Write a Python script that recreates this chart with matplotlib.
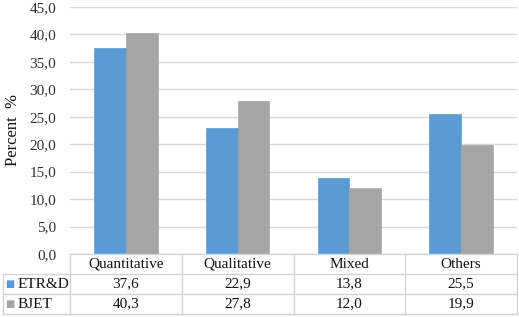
import matplotlib.pyplot as plt
import numpy as np

categories = ['Quantitative', 'Qualitative', 'Mixed', 'Others']
series_names = ['ETR&D', 'BJET']
etrd = [37.6, 22.9, 13.8, 25.5]
bjet = [40.3, 27.8, 12.0, 19.9]
yticks = [0, 5, 10, 15, 20, 25, 30, 35, 40, 45]

colors = ['#5B9BD5', '#A5A5A5']
grid_c = '#D9D9D9'
W, H = 519, 317

plt.rcParams['font.family'] = ['Liberation Serif', 'DejaVu Serif']

def fmt(v):
    return ('%.1f' % v).replace('.', ',')

fig = plt.figure(figsize=(W / 100, H / 100), dpi=100)
# plot area in pixels: x 70..517, y 7..254
ax = fig.add_axes([70 / W, (H - 254) / H, 447 / W, 247 / H])

x = np.arange(len(categories))
bw = 0.285
for i, vals in enumerate([etrd, bjet]):
    ax.bar(x + (i - 0.5) * bw, vals, bw, color=colors[i], zorder=3,
           edgecolor=colors[i], linewidth=0.5)

ax.set_xlim(-0.5, len(categories) - 0.5)
ax.set_ylim(0, 45)
ax.set_yticks(yticks)
ax.set_yticklabels([fmt(v) for v in yticks], fontsize=11, color='#303030')
ax.tick_params(axis='y', length=0, pad=10)
ax.set_xticks([])
ax.yaxis.grid(True, color=grid_c, linewidth=1, zorder=0)
for s in ax.spines.values():
    s.set_visible(False)
ax.set_ylabel('Percent  %', fontsize=12, labelpad=6, color='#111111')

# data table below the axes
rh = 20 / 247
left = (3 - 70) / 447
tc = '#D4D4D4'
kw = dict(color=tc, linewidth=1, clip_on=False, transform=ax.transAxes, zorder=4)
ax.plot([0, 1], [0, 0], **kw)
for r in range(1, 4):
    ax.plot([left, 1], [-r * rh, -r * rh], **kw)
ax.plot([left, left], [-rh, -3 * rh], **kw)
n = len(categories)
for c in range(n + 1):
    ax.plot([c / n, c / n], [0, -3 * rh], **kw)

for c, name in enumerate(categories):
    ax.text((c + 0.5) / n, -0.5 * rh, name, ha='center', va='center',
            fontsize=11, transform=ax.transAxes, color='#111111')
for r, (sname, vals) in enumerate(zip(series_names, [etrd, bjet])):
    yy = -(r + 1.5) * rh
    ax.text(left + 0.005, yy, '■', ha='left', va='center', fontsize=7,
            color=colors[r], transform=ax.transAxes, family=['DejaVu Sans'])
    ax.text(left + 0.033, yy, sname, ha='left', va='center', fontsize=11,
            transform=ax.transAxes, color='#111111')
    for c, v in enumerate(vals):
        ax.text((c + 0.5) / n, yy, fmt(v), ha='center', va='center',
                fontsize=11, transform=ax.transAxes, color='#111111')

fig.savefig('out.png', dpi=100)
